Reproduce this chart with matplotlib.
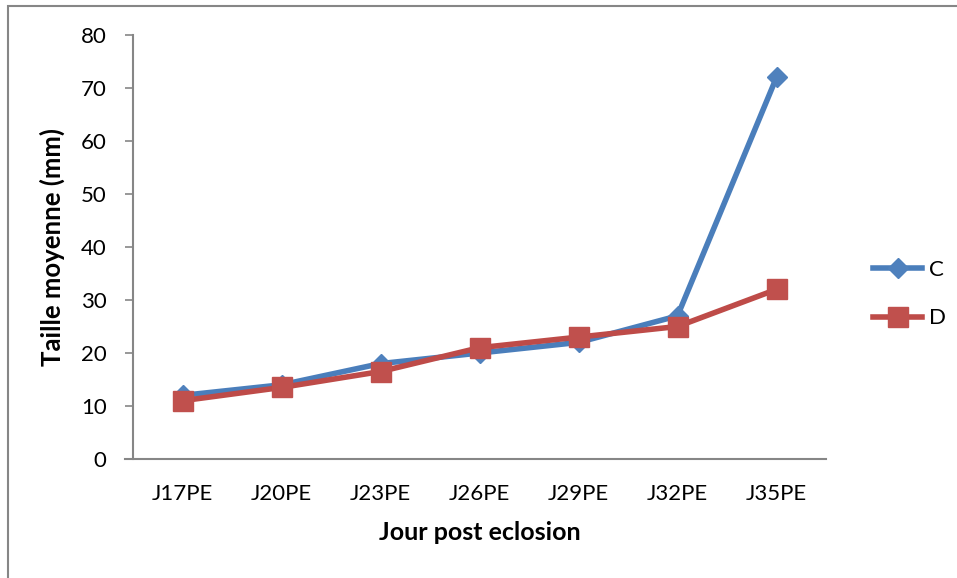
import matplotlib
matplotlib.use("Agg")
import matplotlib.pyplot as plt
from matplotlib.patches import Rectangle

jours = ["J17PE", "J20PE", "J23PE", "J26PE", "J29PE", "J32PE", "J35PE"]
taille_c = [12, 14, 18, 20, 22, 27, 72]
taille_d = [11, 13.5, 16.5, 21, 23, 25, 32]

plt.rcParams['font.family'] = ['Lato', 'DejaVu Sans']

fig = plt.figure(figsize=(9.57, 5.78), dpi=100)
ax = fig.add_axes([133 / 957, 1 - 459 / 578, 693 / 957, 424 / 578])

x = list(range(len(jours)))
ax.plot(x, taille_c, color='#4A7EBB', lw=4, marker='D', markersize=10.5,
        markerfacecolor='#4F81BD', markeredgecolor='#4F81BD', label='C')
ax.plot(x, taille_d, color='#BE4B48', lw=4, marker='s', markersize=14,
        markerfacecolor='#C0504D', markeredgecolor='#C0504D', label='D')

ax.set_xlim(-0.5, len(jours) - 0.5)
ax.set_ylim(0, 80)
ax.set_yticks(range(0, 81, 10))
ax.set_xticks(x)
ax.set_xticklabels(jours)

for s in ['top', 'right']:
    ax.spines[s].set_visible(False)
for s in ['left', 'bottom']:
    ax.spines[s].set_color('#868686')
    ax.spines[s].set_linewidth(1.5)
ax.spines['bottom'].set_bounds(-0.5 - 8 / 99, len(jours) - 0.5)

ax.tick_params(axis='y', length=6, width=1.2, color='#868686', labelsize=16, pad=13)
ax.tick_params(axis='x', length=0, labelsize=16, pad=18)

ax.set_ylabel("Taille moyenne (mm)", fontsize=18.5, fontweight='bold', labelpad=11)
ax.set_xlabel("Jour post eclosion", fontsize=18, fontweight='bold', labelpad=12)

ax.legend(loc='center left', bbox_to_anchor=(862 / 957, 1 - 294 / 578),
          bbox_transform=fig.transFigure, frameon=False, fontsize=16,
          handlelength=2.2, labelspacing=1.3, borderpad=0, handletextpad=0.3)

# cadre du graphique
fig.add_artist(Rectangle((8 / 957, -0.1), 2, 1 - 6 / 578 + 0.1, fill=False,
                         edgecolor='#868686', lw=1.5, transform=fig.transFigure))

fig.savefig("out.png", dpi=100)
